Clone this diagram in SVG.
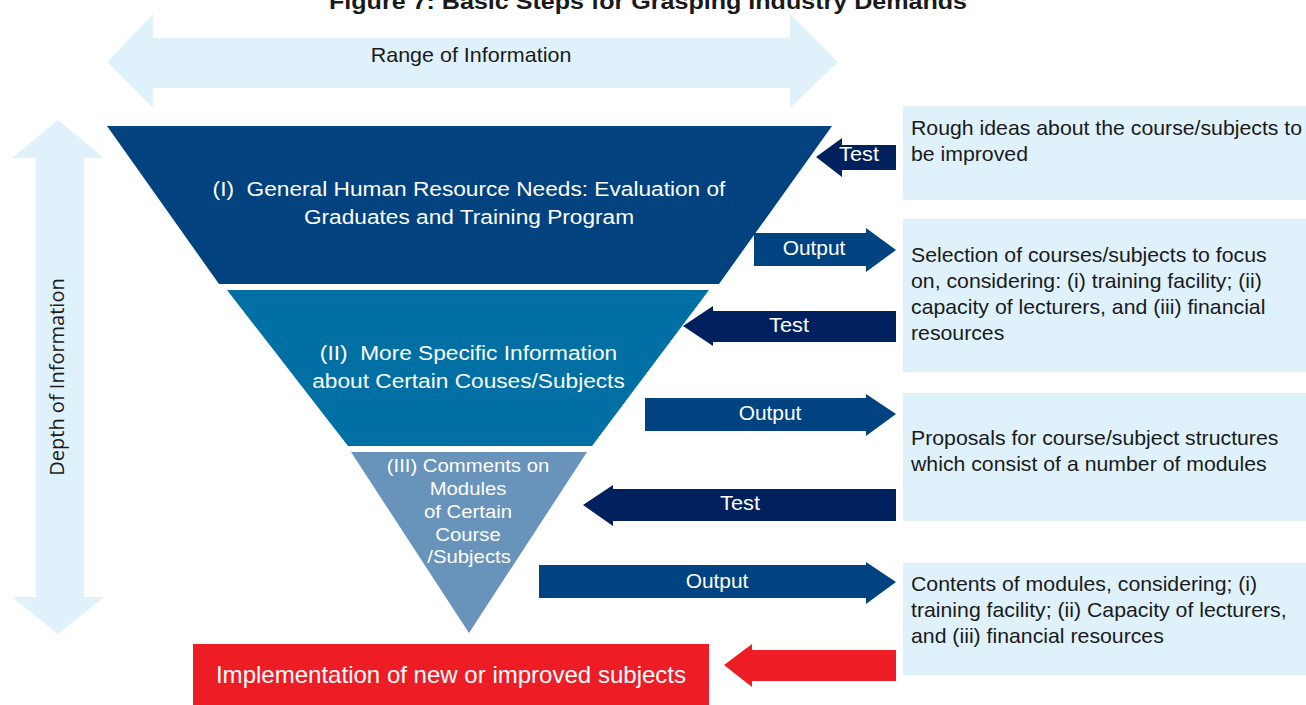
<svg xmlns="http://www.w3.org/2000/svg" width="1306" height="705" viewBox="0 0 1306 705">
<style>
.lb{fill:#dff1fb}
.t{font-family:"Liberation Sans",Arial,sans-serif;fill:#1a1a1a;font-size:20px}
.w{font-family:"Liberation Sans",Arial,sans-serif;fill:#ffffff}
.test{fill:#00215e}
.out{fill:#014380}
</style>
<rect width="1306" height="705" fill="#ffffff"/>
<text transform="translate(648,9) scale(1.14,1)" x="0" y="0" text-anchor="middle" font-family="Liberation Sans, Arial, sans-serif" font-weight="bold" font-size="22" fill="#1a1a1a">Figure 7: Basic Steps for Grasping Industry Demands</text>

<g id="range">
<polygon class="lb" points="107,62 153,14 153,38 790,38 790,14 838,62 790,108 790,88 153,88 153,108"/>
<text class="t" transform="translate(471,62) scale(1.075,1)" x="0" y="0" text-anchor="middle">Range of Information</text>
</g>
<g id="depth">
<polygon class="lb" points="58,120 104,158 84,158 84,597 104,597 58,634 12,597 36,597 36,158 12,158"/>
<text x="0" y="0" transform="translate(64,377) rotate(-90)" text-anchor="middle" font-family="Open Sans, Noto Sans, sans-serif" font-size="20" fill="#1a1a1a">Depth of Information</text>
</g>

<g id="level1">
<polygon fill="#01427f" points="107,126 832,126 719,284 219,284"/>
<text class="w" font-size="21" text-anchor="middle" transform="translate(469,0) scale(1.08,1)" xml:space="preserve"><tspan x="0" y="196">(I)  General Human Resource Needs: Evaluation of</tspan><tspan x="0" y="224">Graduates and Training Program</tspan></text>
</g>
<g id="level2">
<polygon fill="#0070a4" points="227,290 709,290 592,446 348,446"/>
<text class="w" font-size="21" text-anchor="middle" transform="translate(468.5,0) scale(1.08,1)" xml:space="preserve"><tspan x="0" y="360">(II)  More Specific Information</tspan><tspan x="0" y="388">about Certain Couses/Subjects</tspan></text>
</g>
<g id="level3">
<polygon fill="#6893bb" points="351,452 587,452 469,633"/>
<text class="w" font-size="19" text-anchor="middle" transform="translate(468,0) scale(1.07,1)"><tspan x="0" y="472">(III) Comments on</tspan><tspan x="0" y="495">Modules</tspan><tspan x="0" y="518">of Certain</tspan><tspan x="0" y="541">Course</tspan><tspan x="1" y="563">/Subjects</tspan></text>
</g>

<g id="implementation">
<rect x="193" y="644" width="516" height="61" fill="#ee1c25"/>
<text class="w" font-size="23" transform="translate(451,683) scale(1.045,1)" x="0" y="0" text-anchor="middle">Implementation of new or improved subjects</text>
</g>

<g id="box1">
<rect class="lb" x="903" y="106" width="403" height="94"/>
<text class="t" transform="translate(911,0) scale(1.064,1)"><tspan x="0" y="135">Rough ideas about the course/subjects to</tspan><tspan x="0" y="161">be improved</tspan></text>
</g>
<g id="box2">
<rect class="lb" x="903" y="219" width="403" height="153"/>
<text class="t" transform="translate(911,0) scale(1.064,1)"><tspan x="0" y="262">Selection of courses/subjects to focus</tspan><tspan x="0" y="288">on, considering: (i) training facility; (ii)</tspan><tspan x="0" y="314">capacity of lecturers, and (iii) financial</tspan><tspan x="0" y="340">resources</tspan></text>
</g>
<g id="box3">
<rect class="lb" x="903" y="393" width="403" height="128"/>
<text class="t" transform="translate(911,0) scale(1.064,1)"><tspan x="0" y="445">Proposals for course/subject structures</tspan><tspan x="0" y="471">which consist of a number of modules</tspan></text>
</g>
<g id="box4">
<rect class="lb" x="903" y="563" width="403" height="112"/>
<text class="t" transform="translate(911,0) scale(1.064,1)"><tspan x="0" y="591">Contents of modules, considering; (i)</tspan><tspan x="0" y="617">training facility; (ii) Capacity of lecturers,</tspan><tspan x="0" y="643">and (iii) financial resources</tspan></text>
</g>

<g id="connectors">
<polygon class="test" points="816,157 842,138 842,145 896,145 896,170 842,170 842,177"/>
<text class="w" font-size="20" transform="translate(859,161) scale(1.09,1)" x="0" y="0" text-anchor="middle">Test</text>
<polygon class="out" points="754,233 866,233 866,228 896,250 866,272 866,266 754,266"/>
<text class="w" font-size="20" transform="translate(814,255) scale(1.045,1)" x="0" y="0" text-anchor="middle">Output</text>
<polygon class="test" points="683,326 713,306 713,311 896,311 896,342 713,342 713,346"/>
<text class="w" font-size="20" transform="translate(789,332) scale(1.09,1)" x="0" y="0" text-anchor="middle">Test</text>
<polygon class="out" points="645,398 866,398 866,394 896,414 866,436 866,431 645,431"/>
<text class="w" font-size="20" transform="translate(770,420) scale(1.045,1)" x="0" y="0" text-anchor="middle">Output</text>
<polygon class="test" points="583,505 613,485 613,489 896,489 896,521 613,521 613,526"/>
<text class="w" font-size="20" transform="translate(740,510) scale(1.09,1)" x="0" y="0" text-anchor="middle">Test</text>
<polygon class="out" points="539,565 866,565 866,562 896,582 866,604 866,598 539,598"/>
<text class="w" font-size="20" transform="translate(717,588) scale(1.045,1)" x="0" y="0" text-anchor="middle">Output</text>
<polygon fill="#ee1c25" points="724,665 752,644 752,650 896,650 896,681 752,681 752,687"/>
</g>
</svg>
